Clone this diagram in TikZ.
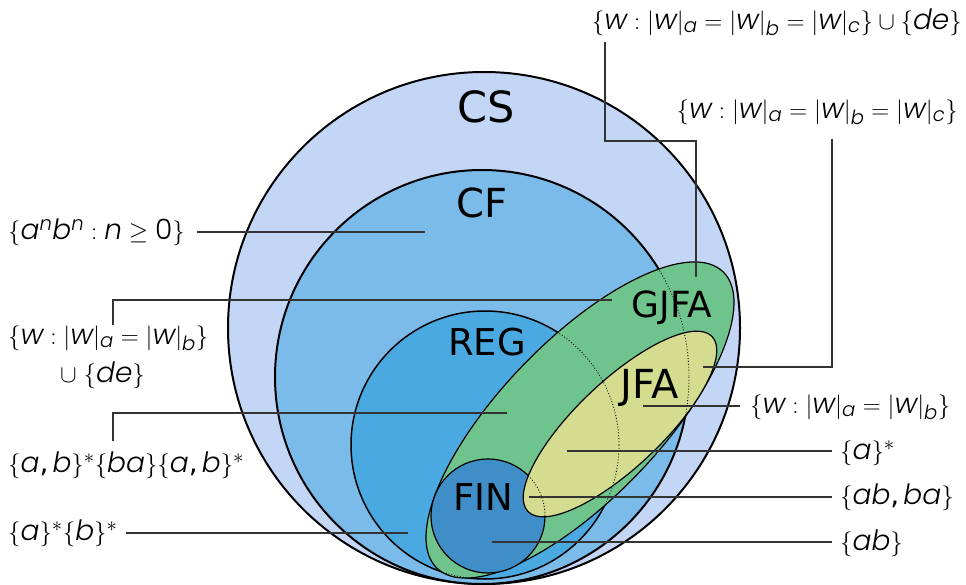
\documentclass[tikz,border=0pt]{standalone}
\usepackage{amsmath,amssymb}
\usepackage{fontspec}
\setmainfont{DejaVu Sans}
% math letters from a light geometric italic
\newfontfamily\letterfont[NFSSFamily=letfam,ItalicFont={Poppins Light Italic}]{Poppins Light}
\DeclareSymbolFont{letters}{TU}{letfam}{m}{it}
\AtBeginDocument{\mathcode`\,="602C}
\usepackage{xcolor}
\usepackage{tikz}

\definecolor{csblue}{HTML}{C4D6F5}
\definecolor{cfblue}{HTML}{7BBBE9}
\definecolor{regblue}{HTML}{4BA9E1}
\definecolor{finblue}{HTML}{3F8EC7}
\definecolor{gjfagreen}{HTML}{6FC48D}
\definecolor{jfayellow}{HTML}{D4DC8F}
\newcommand\lblsize{\fontsize{28}{33}\selectfont}

\begin{document}
\begin{tikzpicture}[x=1pt,y=-1pt,
  outline/.style={draw=black,line width=2pt},
  rim/.style={draw=black,line width=1.2pt},
  hidden/.style={draw=black,line width=0.9pt,dotted},
  leader/.style={draw=black!80,line width=1.3pt},
  cls/.style={font=\fontsize{#1}{#1}\selectfont,anchor=base,inner sep=0pt},
  lang/.style={font=\lblsize,inner sep=0pt}]
  \useasboundingbox (0,0) rectangle (966,585);
  % ── Classes (outer to inner) ──────────────────────
  \draw[outline,fill=csblue] (484,328) circle[radius=256];
  \draw[outline,fill=cfblue] (482,377) circle[radius=207];
  \draw[outline,line width=1.5pt,fill=regblue] (485,445) circle[radius=134];
  \draw[rim,fill=gjfagreen] (580,420) ellipse[x radius=206,y radius=79,rotate=46];
  \draw[rim,fill=finblue] (488,516) circle[radius=57];
  \draw[rim,fill=jfayellow] (620,424) ellipse[x radius=127,y radius=43,rotate=43.5];
  % ── Hidden borders (dotted inside the ellipses) ───
  \begin{scope}
    \clip (580,420) ellipse[x radius=206,y radius=79,rotate=46];
    \draw[hidden] (485,445) circle[radius=134];
    \draw[hidden] (482,377) circle[radius=207];
  \end{scope}
  \begin{scope}
    \clip (620,424) ellipse[x radius=127,y radius=43,rotate=43.5];
    \draw[hidden] (488,516) circle[radius=57];
  \end{scope}
  % ── Class names ───────────────────────────────────
  \node[cls=43] (cs)   at (486,123) {CS};
  \node[cls=40] (cf)   at (482,218) {CF};
  \node[cls=37] (reg)  at (487,355) {REG};
  \node[cls=36] (gjfa) at (672,317) {GJFA};
  \node[cls=40] (jfa)  at (650,398) {JFA};
  \node[cls=37] (fin)  at (483,510) {FIN};
  % ── Leader ends (inside the regions) ──────────────
  \coordinate (e1) at (696,277);
  \coordinate (k1) at (605,141);
  \coordinate (e2) at (703,367);
  \coordinate (k2) at (832,367);
  \coordinate (e3) at (425,232);
  \coordinate (e4) at (612,300);
  \coordinate (k4) at (113,300);
  \coordinate (e5) at (507,413);
  \coordinate (k5) at (113,413);
  \coordinate (e6) at (408,534);
  \coordinate (e7) at (643,406);
  \coordinate (e8) at (567,451);
  \coordinate (e9) at (529,497);
  \coordinate (e10) at (492,542);
  % ── Example languages ─────────────────────────────
  \node[lang,anchor=east] (l1) at (962,22) {$\{w : |w|_a = |w|_b = |w|_c\} \cup \{de\}$};
  \node[lang,anchor=east] (l2) at (958,112) {$\{w : |w|_a = |w|_b = |w|_c\}$};
  \node[lang,anchor=west] (l3) at (8,232) {$\{a^n b^n : n \geq \text{\letterfont 0}\}$};
  \node[lang,anchor=west] (l4) at (8,338) {$\{w : |w|_a = |w|_b\}$};
  \node[lang,anchor=west] (l4b) at (60,375) {$\cup\;\{de\}$};
  \node[lang,anchor=west] (l5) at (8,465) {$\{a,b\}^*\{ba\}\{a,b\}^*$};
  \node[lang,anchor=west] (l6) at (8,533) {$\{a\}^*\{b\}^*$};
  \node[lang,anchor=west] (l7) at (750,407) {$\{w : |w|_a = |w|_b\}$};
  \node[lang,anchor=west] (l8) at (840,453) {$\{a\}^*$};
  \node[lang,anchor=west] (l9) at (840,497) {$\{ab, ba\}$};
  \node[lang,anchor=west] (l10) at (840,543) {$\{ab\}$};
  % ── Leaders (label -> region) ─────────────────────
  \draw[leader,shorten <=6pt] (l1.south -| k1) -- (k1) -| (e1);
  \draw[leader,shorten <=14pt] (l2.south -| k2) -- (k2) -- (e2);
  \draw[leader,shorten <=12pt] (l3.east) -- (l3.east -| e3);
  \draw[leader] (l4.north -| k4) -- (k4) -- (e4);
  \draw[leader,shorten <=10pt] (l5.north -| k5) -- (k5) -- (e5);
  \draw[leader,shorten <=8pt] (l6.east) -- (l6.east -| e6);
  \draw[leader,shorten >=10pt] (e7) -- (e7 -| l7.west);
  \draw[leader,shorten >=8pt] (e8) -- (e8 -| l8.west);
  \draw[leader,shorten >=8pt] (e9) -- (e9 -| l9.west);
  \draw[leader,shorten >=8pt] (e10) -- (e10 -| l10.west);
\end{tikzpicture}
\end{document}
